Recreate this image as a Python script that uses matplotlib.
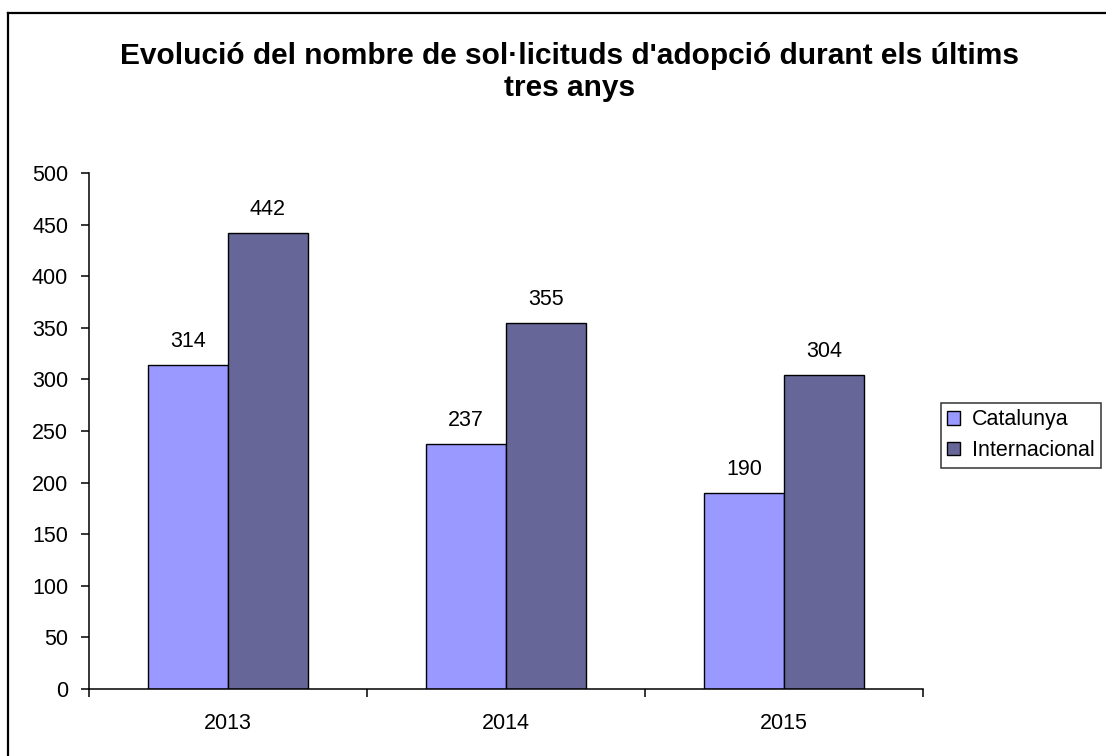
import matplotlib
matplotlib.use("Agg")
import matplotlib.pyplot as plt
from matplotlib.lines import Line2D
from matplotlib.patches import Patch
import numpy as np

plt.rcParams['font.family'] = ['Liberation Sans', 'DejaVu Sans']

years = ["2013", "2014", "2015"]
catalunya = [314, 237, 190]
internacional = [442, 355, 304]
series_names = ["Catalunya", "Internacional"]
colors = ["#9999FF", "#666699"]
title_lines = ["Evolució del nombre de sol·licituds d'adopció durant els últims", "tres anys"]

W, H = 1106, 756
fig = plt.figure(figsize=(W / 100, H / 100), dpi=100)

def fx(px):
    return px / W

def fy(py):
    return 1 - py / H

FS = 15.5

ax = fig.add_axes([fx(89), fy(689), fx(923) - fx(89), fy(173) - fy(689)])

x = np.arange(len(years))
bw = 80 / 278
ax.bar(x - bw / 2, catalunya, bw, color=colors[0], edgecolor="black", linewidth=1.0, label=series_names[0])
ax.bar(x + bw / 2, internacional, bw, color=colors[1], edgecolor="black", linewidth=1.0, label=series_names[1])

for xi, v in zip(x - bw / 2, catalunya):
    ax.annotate(str(v), (xi, v), xytext=(0, 13), textcoords="offset points",
                ha="center", va="baseline", fontsize=FS)
for xi, v in zip(x + bw / 2, internacional):
    ax.annotate(str(v), (xi, v), xytext=(0, 13), textcoords="offset points",
                ha="center", va="baseline", fontsize=FS)

ax.set_xlim(-0.5, len(years) - 0.5)
ax.set_ylim(0, 500)
ax.set_yticks(np.arange(0, 501, 50))
ax.tick_params(axis="y", direction="out", length=6, width=1.1, pad=9, labelsize=FS, color="black")

ax.set_xticks(np.arange(-0.5, len(years), 1.0))
ax.set_xticklabels([])
ax.tick_params(axis="x", which="major", direction="out", length=6, width=1.1, color="black")
ax.set_xticks(x, minor=True)
ax.set_xticklabels(years, minor=True)
ax.tick_params(axis="x", which="minor", length=0, pad=17, labelsize=FS)

for s in ["top", "right"]:
    ax.spines[s].set_visible(False)
for s in ["left", "bottom"]:
    ax.spines[s].set_linewidth(1.1)
    ax.spines[s].set_color("black")

fig.text(fx(570), fy(64), title_lines[0], ha="center", va="baseline", fontsize=21.5, fontweight="bold")
fig.text(fx(570), fy(96), title_lines[1], ha="center", va="baseline", fontsize=21.5, fontweight="bold")

handles = [Patch(facecolor=c, edgecolor="black", linewidth=1.0) for c in colors]
leg = fig.legend(handles, series_names, loc="upper left",
                 bbox_to_anchor=(fx(941), fy(403)), frameon=True, fancybox=False,
                 fontsize=FS, handlelength=0.6, handleheight=0.6, handletextpad=0.55,
                 borderpad=0.3, labelspacing=0.45, borderaxespad=0)
leg.get_frame().set_edgecolor("black")
leg.get_frame().set_linewidth(1.1)

# chart border
fig.add_artist(Line2D([fx(8), 1.0], [fy(13), fy(13)], color="black", linewidth=1.6, transform=fig.transFigure))
fig.add_artist(Line2D([fx(8), fx(8)], [fy(13), 0.0], color="black", linewidth=1.6, transform=fig.transFigure))

fig.savefig("out.png", dpi=100)
